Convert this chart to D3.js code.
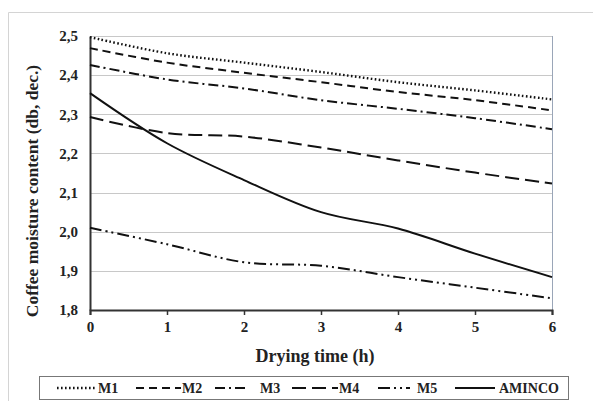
<!DOCTYPE html>
<html lang="en-US">
<head>
<meta charset="UTF-8">
<title>Coffee moisture</title>
<style>
  body {margin: 0; background: #fff;}
  svg text {font-family: "Liberation Serif", "Times New Roman", serif; font-weight: bold; fill: #222;}
</style>
</head>
<body>
<div id="viz"></div>
<script src="https://d3js.org/d3.v7.min.js"></script>
<script>
var hours = [0, 1, 2, 3, 4, 5, 6];
var yTicks = [1.8, 1.9, 2.0, 2.1, 2.2, 2.3, 2.4, 2.5];

var m1 = [2.497, 2.456, 2.432, 2.408, 2.382, 2.361, 2.338];
var m2 = [2.469, 2.432, 2.406, 2.382, 2.357, 2.336, 2.31];
var m3 = [2.426, 2.389, 2.366, 2.336, 2.314, 2.29, 2.262];
var m4 = [2.293, 2.252, 2.243, 2.215, 2.182, 2.151, 2.123];
var m5 = [2.01, 1.968, 1.922, 1.913, 1.884, 1.857, 1.83];
var aminco = [2.354, 2.226, 2.132, 2.05, 2.008, 1.944, 1.884];

var seriesNames = ["M1", "M2", "M3", "M4", "M5", "AMINCO"];
var seriesValues = [m1, m2, m3, m4, m5, aminco];
var dashes = ["1.6,2.4", "8,5", "10,4,2,4", "14,6", "12,4,2,4,2,4", null];

var width = 593, height = 401;
var plotL = 90, plotR = 552, plotT = 36, plotB = 310;

var svg = d3.select("#viz").append("svg")
    .attr("width", width)
    .attr("height", height);

// outer frame
svg.append("path")
    .attr("d", "M8.5," + height + "V12.5H" + width)
    .attr("fill", "none").attr("stroke", "#d4d4d4");

var x = d3.scaleLinear().domain([0, 6]).range([plotL, plotR]);
var y = d3.scaleLinear().domain([1.8, 2.5]).range([plotB, plotT]);

// gridlines
svg.append("g").selectAll("line")
    .data(yTicks.slice(1))
    .enter().append("line")
    .attr("x1", plotL).attr("x2", plotR)
    .attr("y1", function(d) { return Math.round(y(d)) + 0.5; })
    .attr("y2", function(d) { return Math.round(y(d)) + 0.5; })
    .attr("stroke", "#c8c8c8");

// right border of plot
svg.append("line")
    .attr("x1", plotR + 0.5).attr("x2", plotR + 0.5)
    .attr("y1", plotT).attr("y2", plotB)
    .attr("stroke", "#9aa6b8");

// axes
var xAxis = svg.append("g")
    .attr("transform", "translate(0," + plotB + ")")
    .call(d3.axisBottom(x).tickValues(hours).tickFormat(d3.format("d")).tickSize(5).tickPadding(6));
var yAxis = svg.append("g")
    .attr("transform", "translate(" + plotL + ",0)")
    .call(d3.axisLeft(y).tickValues(yTicks).tickSize(0).tickPadding(12)
        .tickFormat(function(d) { return d3.format(".1f")(d).replace(".", ","); }));

[xAxis, yAxis].forEach(function(a) {
    a.select(".domain").attr("stroke", "#333").attr("stroke-width", 2);
    a.selectAll(".tick line").attr("stroke", "#333").attr("stroke-width", 1.5);
    a.selectAll("text").style("font-size", "15px").attr("fill", "#222");
});

// lines
var line = d3.line()
    .x(function(d, i) { return x(hours[i]); })
    .y(function(d) { return y(d); })
    .curve(d3.curveCatmullRom);

svg.append("g").selectAll("path")
    .data(seriesValues)
    .enter().append("path")
    .attr("d", line)
    .attr("fill", "none")
    .attr("stroke", "#111")
    .attr("stroke-width", function(d, i) { return i == 0 ? 2.4 : 2; })
    .attr("stroke-dasharray", function(d, i) { return dashes[i]; });

// axis titles
svg.append("text")
    .attr("x", 315).attr("y", 362)
    .attr("text-anchor", "middle")
    .style("font-size", "18px")
    .text("Drying time (h)");

svg.append("text")
    .attr("transform", "translate(38,191)rotate(-90)")
    .attr("text-anchor", "middle")
    .style("font-size", "17.5px")
    .text("Coffee moisture content (db, dec.)");

// legend
var legend = svg.append("g");
legend.append("rect")
    .attr("x", 39.5).attr("y", 376.5).attr("width", 529).attr("height", 23)
    .attr("fill", "#fff").attr("stroke", "#777");

var legendX = [57, 136, 215, 292, 378, 455];
var legendLen = [38, 45, 33, 46, 32, 40];
var legendGap = [3, 1, 12, 1, 7, 4];
var item = legend.selectAll(".item")
    .data(seriesNames)
    .enter().append("g")
    .attr("transform", function(d, i) { return "translate(" + legendX[i] + ",388)"; });
item.append("line")
    .attr("x1", 0).attr("x2", function(d, i) { return legendLen[i]; })
    .attr("stroke", "#111")
    .attr("stroke-width", function(d, i) { return i == 0 ? 2.4 : 2; })
    .attr("stroke-dasharray", function(d, i) { return dashes[i]; });
item.append("text")
    .attr("x", function(d, i) { return legendLen[i] + legendGap[i]; })
    .attr("y", 5)
    .style("font-size", "14px")
    .text(function(d) { return d; });
</script>
</body>
</html>
